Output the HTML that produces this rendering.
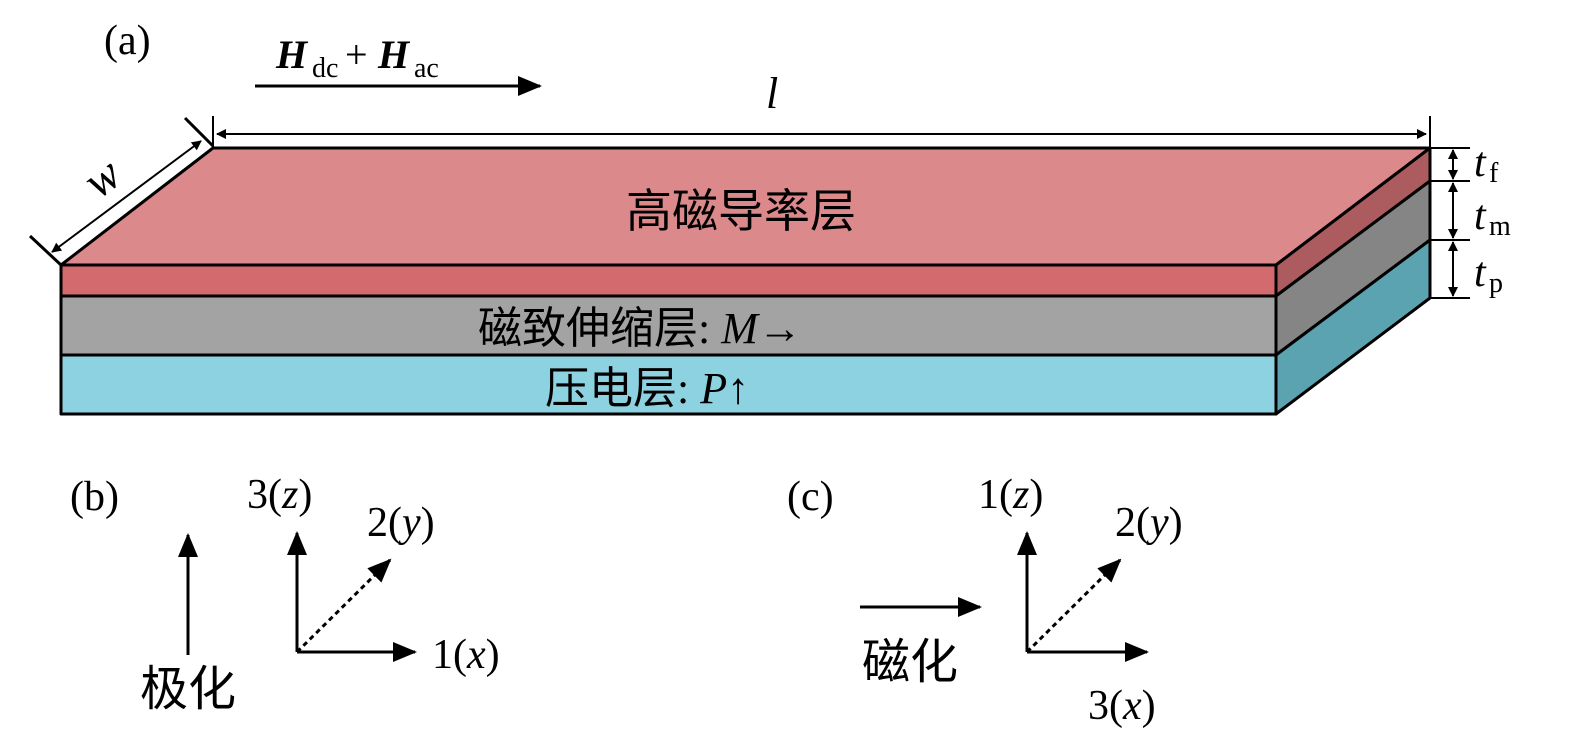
<!DOCTYPE html>
<html><head><meta charset="utf-8"><style>
html,body{margin:0;background:#fff;overflow:hidden;width:1575px;height:738px}
svg{display:block}
text{font-family:"Liberation Serif","Noto Serif CJK SC",serif;fill:#000}
.cj{font-family:"Liberation Serif","Noto Sans CJK SC",sans-serif}
.it{font-style:italic}
</style></head><body>
<svg width="1575" height="738" viewBox="0 0 1575 738">
<defs>
<marker id="big" markerWidth="24" markerHeight="20" refX="22" refY="10" orient="auto" markerUnits="userSpaceOnUse"><path d="M0,0 L24,10 L0,20 Z" fill="#000"/></marker>
<marker id="s" markerWidth="10" markerHeight="10" refX="9" refY="5" orient="auto-start-reverse" markerUnits="userSpaceOnUse"><path d="M0,0 L10,5 L0,10 Z" fill="#000"/></marker>
</defs>
<g stroke="#000" stroke-width="3" stroke-linejoin="round">
<polygon points="61,265 213,148 1430,148 1276,265" fill="#db898b"/>
<rect x="61" y="265" width="1215" height="31" fill="#d26a6e"/>
<rect x="61" y="296" width="1215" height="59" fill="#a3a3a3"/>
<rect x="61" y="355" width="1215" height="59" fill="#8dd2e0"/>
<polygon points="1276,265 1430,148 1430,181 1276,296" fill="#ac5c5e"/>
<polygon points="1276,296 1430,181 1430,240 1276,355" fill="#858585"/>
<polygon points="1276,355 1430,240 1430,298 1276,414" fill="#5ba3b1"/>
</g>
<g stroke="#000" stroke-width="2" fill="none">
<line x1="213" y1="116" x2="213" y2="148"/>
<line x1="1430" y1="116" x2="1430" y2="148"/>
<line x1="217" y1="134" x2="1426" y2="134" marker-end="url(#s)" marker-start="url(#s)"/>
<line x1="30" y1="236" x2="61" y2="265" stroke-width="3"/>
<line x1="185" y1="118" x2="213" y2="146" stroke-width="3"/>
<line x1="52" y1="252" x2="201" y2="141" marker-end="url(#s)" marker-start="url(#s)"/>
<line x1="1430" y1="148" x2="1470" y2="148"/>
<line x1="1430" y1="181" x2="1470" y2="181"/>
<line x1="1430" y1="240" x2="1470" y2="240"/>
<line x1="1430" y1="298" x2="1470" y2="298"/>
<line x1="1453" y1="150" x2="1453" y2="179" marker-end="url(#s)" marker-start="url(#s)"/>
<line x1="1453" y1="183" x2="1453" y2="238" marker-end="url(#s)" marker-start="url(#s)"/>
<line x1="1453" y1="242" x2="1453" y2="296" marker-end="url(#s)" marker-start="url(#s)"/>
</g>
<g stroke="#000" stroke-width="3" fill="none">
<line x1="255" y1="86" x2="540" y2="86" marker-end="url(#big)"/>
<line x1="188" y1="655" x2="188" y2="535" marker-end="url(#big)"/>
<line x1="297" y1="652" x2="297" y2="533" marker-end="url(#big)"/>
<line x1="297" y1="652" x2="415" y2="652" marker-end="url(#big)"/>
<line x1="297" y1="652" x2="390" y2="560" stroke-dasharray="5,4" marker-end="url(#big)"/>
<line x1="860" y1="607" x2="980" y2="607" marker-end="url(#big)"/>
<line x1="1027" y1="652" x2="1027" y2="533" marker-end="url(#big)"/>
<line x1="1027" y1="652" x2="1147" y2="652" marker-end="url(#big)"/>
<line x1="1027" y1="652" x2="1120" y2="560" stroke-dasharray="5,4" marker-end="url(#big)"/>
</g>
<text x="104" y="54" font-size="42">(a)</text>
<text x="276" y="68" font-size="40" font-weight="bold" class="it">H</text><text x="312" y="77" font-size="28">dc</text>
<text x="345" y="68" font-size="40">+</text>
<text x="378" y="68" font-size="40" font-weight="bold" class="it">H</text><text x="414" y="77" font-size="28">ac</text>
<text x="766" y="108" font-size="44" class="it">l</text>
<text x="88" y="192" font-size="48" class="it" transform="rotate(-37 105 180)">w</text>
<text x="626" y="227" font-size="46" class="cj">高磁导率层</text>
<text x="478" y="343" font-size="44" class="cj">磁致伸缩层: <tspan class="it" font-family="Liberation Serif">M</tspan>→</text>
<text x="545" y="403" font-size="44" class="cj">压电层: <tspan class="it" font-family="Liberation Serif">P</tspan>↑</text>
<text x="1474" y="176" font-size="42" class="it">t</text><text x="1489" y="182" font-size="28">f</text>
<text x="1474" y="229" font-size="42" class="it">t</text><text x="1489" y="235" font-size="28">m</text>
<text x="1474" y="286" font-size="42" class="it">t</text><text x="1489" y="292" font-size="28">p</text>
<text x="70" y="510" font-size="42">(b)</text>
<text x="247" y="508" font-size="42">3(<tspan class="it">z</tspan>)</text>
<text x="367" y="536" font-size="42">2(<tspan class="it">y</tspan>)</text>
<text x="432" y="668" font-size="42">1(<tspan class="it">x</tspan>)</text>
<text x="140" y="705" font-size="48" class="cj">极化</text>
<text x="787" y="510" font-size="42">(c)</text>
<text x="978" y="508" font-size="42">1(<tspan class="it">z</tspan>)</text>
<text x="1115" y="536" font-size="42">2(<tspan class="it">y</tspan>)</text>
<text x="1088" y="719" font-size="42">3(<tspan class="it">x</tspan>)</text>
<text x="862" y="678" font-size="48" class="cj">磁化</text>
</svg>
</body></html>
